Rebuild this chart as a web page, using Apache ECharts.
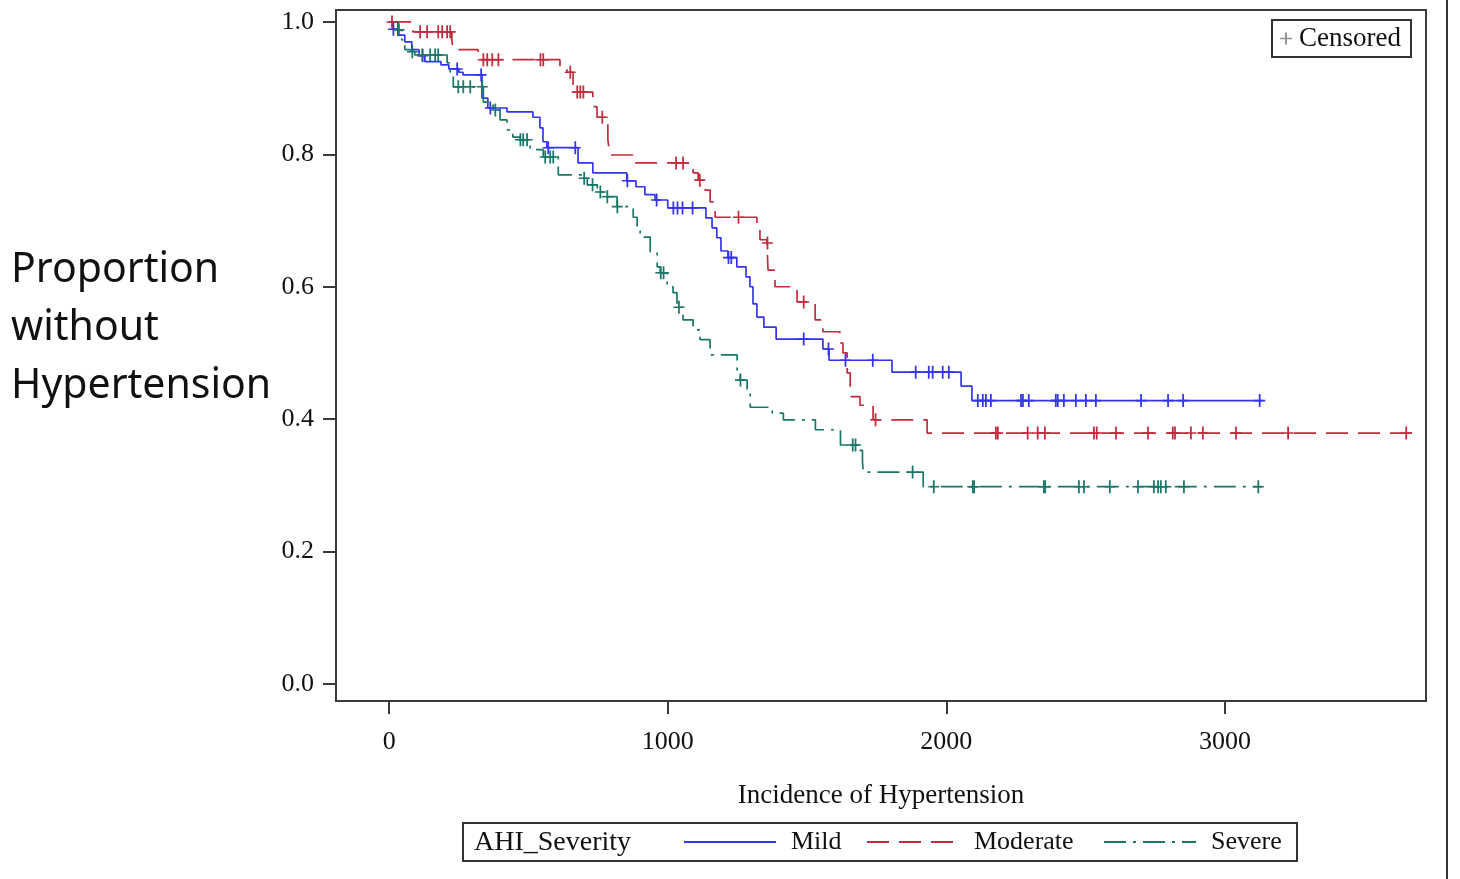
<!DOCTYPE html>
<html><head><meta charset="utf-8">
<script src="https://cdn.jsdelivr.net/npm/echarts@6/dist/echarts.min.js"></script>
<style>html,body{margin:0;padding:0;background:#fff}#c{width:1460px;height:879px}</style>
</head><body><div id="c"></div>
<script>
// ---- data ----
const groupNames = ['Mild', 'Moderate', 'Severe'];
const xTicks = [0, 1000, 2000, 3000];
const yTicks = [0, 0.2, 0.4, 0.6, 0.8, 1.0];

const mildTimes = [0,13,31,56,81,107,128,186,214,250,265,333,354,423,516,541,552,566,678,731,853,886,918,954,1000,1137,1159,1176,1191,1216,1248,1281,1295,1306,1320,1345,1389,1557,1579,1805,2053,2092,3137];
const mildSurv  = [1.0,0.989,0.980,0.970,0.958,0.949,0.940,0.935,0.929,0.924,0.920,0.885,0.870,0.864,0.856,0.840,0.819,0.810,0.787,0.772,0.760,0.751,0.739,0.731,0.719,0.704,0.689,0.674,0.654,0.644,0.630,0.615,0.600,0.574,0.554,0.539,0.521,0.506,0.489,0.471,0.450,0.428,0.428];
const mildCensor = [15,120,244,330,363,571,668,855,960,1020,1035,1053,1089,1218,1228,1488,1577,1638,1736,1890,1937,1951,1987,2009,2113,2131,2142,2160,2268,2275,2296,2393,2400,2422,2465,2501,2537,2699,2796,2850,3125];

const moderateTimes = [0,85,225,229,319,613,638,660,731,746,785,792,875,1091,1109,1134,1152,1170,1320,1331,1356,1360,1385,1464,1529,1557,1618,1629,1644,1655,1690,1737,1931,3683];
const moderateSurv  = [1.0,0.985,0.973,0.958,0.943,0.932,0.924,0.894,0.872,0.856,0.822,0.799,0.787,0.772,0.761,0.746,0.728,0.705,0.689,0.671,0.666,0.625,0.600,0.577,0.550,0.532,0.515,0.500,0.470,0.434,0.421,0.399,0.379,0.379];
const moderateCensor = [10,111,136,176,190,208,219,338,352,370,392,543,553,650,675,686,697,765,1030,1055,1115,1254,1358,1488,1746,2178,2185,2292,2328,2354,2530,2540,2609,2724,2813,2821,2878,2921,3040,3227,3651];

const severeTimes = [0,31,45,56,74,92,208,219,230,338,373,398,423,444,470,506,553,607,693,711,747,782,818,876,890,901,937,962,973,998,1019,1033,1055,1091,1116,1152,1249,1260,1285,1296,1375,1415,1530,1620,1681,1699,1702,1917,3134];
const severeSurv  = [1.0,0.988,0.973,0.958,0.955,0.950,0.938,0.924,0.902,0.879,0.867,0.852,0.837,0.826,0.822,0.807,0.796,0.769,0.764,0.754,0.743,0.736,0.721,0.705,0.690,0.675,0.653,0.630,0.621,0.600,0.591,0.569,0.550,0.535,0.520,0.497,0.474,0.459,0.440,0.418,0.409,0.399,0.384,0.361,0.353,0.335,0.320,0.298,0.298];
const severeCensor = [35,83,119,147,165,176,248,266,291,334,381,471,481,495,560,578,589,700,730,758,783,819,975,985,1040,1261,1664,1674,1879,1955,2095,2100,2350,2355,2476,2494,2587,2688,2745,2760,2770,2788,2853,3120];

// ---- helpers ----
function pairs(t, s) { return t.map((v, i) => [v, s[i]]); }
function kmAt(t, times, surv) {
  let v = surv[0];
  for (let i = 0; i < times.length; i++) { if (times[i] <= t) v = surv[i]; else break; }
  return v;
}
function censorPts(c, times, surv) { return c.map(t => [t, kmAt(t, times, surv)]); }

const colors = ['#3434ee', '#c32b3c', '#187767'];
const dashes = ['solid', [22, 10], [22, 7, 3, 7]];
const plusPath = 'path://M-1.6,-10L1.6,-10L1.6,-1.2L10,-1.2L10,1.2L1.6,1.2L1.6,10L-1.6,10L-1.6,1.2L-10,1.2L-10,-1.2L-1.6,-1.2Z';
const serif = 'Liberation Serif';
const axisCol = '#3a3a3a';

const curves = [
  [mildTimes, mildSurv, mildCensor],
  [moderateTimes, moderateSurv, moderateCensor],
  [severeTimes, severeSurv, severeCensor]
];

const series = [];
curves.forEach((c, i) => {
  series.push({
    name: groupNames[i], type: 'line', step: 'end', symbol: 'none',
    data: pairs(c[0], c[1]),
    lineStyle: { color: colors[i], width: 1.7, type: dashes[i] },
    itemStyle: { color: colors[i] },
    animation: false, z: 3
  });
  series.push({
    name: groupNames[i] + ' censored', type: 'scatter', symbol: plusPath, symbolSize: [11, 13],
    data: censorPts(c[2], c[0], c[1]),
    itemStyle: { color: colors[i], opacity: 1 },
    animation: false, z: 4, silent: true
  });
});
series.push({ name: 'Censored', type: 'scatter', data: [], symbol: plusPath, itemStyle: { color: '#777' } });

const legendX = [683, 866, 1103];
const legends = groupNames.map((n, i) => ({
  data: [n], left: legendX[i], top: 829, orient: 'horizontal', padding: 0,
  itemWidth: 92, itemHeight: 14, selectedMode: false,
  itemStyle: { opacity: 0 },
  textStyle: { fontFamily: serif, fontSize: 26, color: '#111', padding: [0, 0, 0, 10] }
}));
legends.push({
  data: [{ name: 'Censored', icon: plusPath }], left: 1272, top: 20,
  padding: [5, 10, 5, 8], itemWidth: 12, itemHeight: 14, selectedMode: false,
  borderColor: '#333', borderWidth: 2,
  itemStyle: { color: '#777' },
  textStyle: { fontFamily: serif, fontSize: 27, color: '#111', padding: [0, 0, 0, 2] }
});

const option = {
  backgroundColor: '#fff',
  animation: false,
  grid: { left: 336, right: 34, top: 10, bottom: 178, show: true, borderColor: axisCol, borderWidth: 2, backgroundColor: 'transparent' },
  xAxis: {
    type: 'value', min: -191, max: 3722,
    name: 'Incidence of Hypertension', nameLocation: 'middle', nameGap: 81,
    nameTextStyle: { fontFamily: serif, fontSize: 27, color: '#111' },
    axisLine: { show: true, onZero: false, lineStyle: { color: axisCol, width: 2 } },
    axisTick: { show: true, length: 13, lineStyle: { color: axisCol, width: 2 }, customValues: xTicks },
    axisLabel: { fontFamily: serif, fontSize: 26, color: '#111', margin: 28, customValues: xTicks, formatter: v => String(v) },
    splitLine: { show: false }
  },
  yAxis: {
    type: 'value', min: -0.0257, max: 1.018,
    axisLine: { show: true, onZero: false, lineStyle: { color: axisCol, width: 2 } },
    axisTick: { show: true, length: 13, lineStyle: { color: axisCol, width: 2 }, customValues: yTicks },
    axisLabel: { fontFamily: serif, fontSize: 26, color: '#111', margin: 22, customValues: yTicks, formatter: v => v.toFixed(1) },
    splitLine: { show: false }
  },
  legend: legends,
  graphic: [
    { type: 'rect', shape: { x: 463, y: 823, width: 834, height: 38 }, style: { fill: 'none', stroke: '#333', lineWidth: 2 } },
    { type: 'text', x: 474, y: 843, style: { text: 'AHI_Severity', font: '28px "Liberation Serif"', fill: '#111', verticalAlign: 'middle' } },
    { type: 'line', shape: { x1: 1447, y1: 0, x2: 1447, y2: 879 }, style: { stroke: '#333', lineWidth: 2 } },
    { type: 'text', x: 11, y: 241, style: { text: 'Proportion\nwithout\nHypertension', font: '41px "Noto Sans"', lineHeight: 58, fill: '#111' } }
  ],
  series: series
};
const chart = echarts.init(document.getElementById('c'), null, { renderer: 'canvas' });
chart.setOption(option);
</script>
</body></html>
